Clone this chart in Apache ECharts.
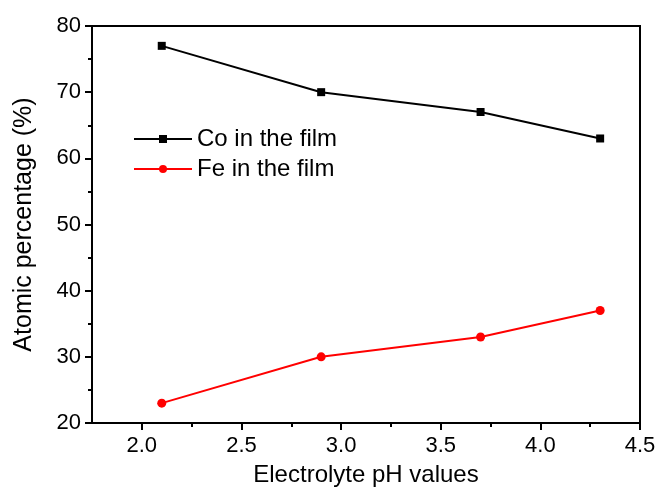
<!DOCTYPE html>
<html>
<head>
<meta charset="utf-8">
<script src="https://cdn.jsdelivr.net/npm/echarts@6/dist/echarts.min.js"></script>
<style>
  html, body { margin: 0; padding: 0; background: #fff; }
  #chart { width: 659px; height: 489px; }
</style>
</head>
<body>
<div id="chart"></div>
<script>
// data
const phValues = [2.1, 2.9, 3.7, 4.3];
const coValues = [77, 70, 67, 63];
const feValues = [23, 30, 33, 37];
const xMajorTicks = [2.0, 2.5, 3.0, 3.5, 4.0, 4.5];
const xMinorTicks = [2.25, 2.75, 3.25, 3.75, 4.25];

const font = "Liberation Sans, Arial, sans-serif";

function pairs(xs, ys) {
  return xs.map((x, i) => [x, ys[i]]);
}

const chart = echarts.init(document.getElementById("chart"));
chart.setOption({
  animation: false,
  grid: {
    left: 92, top: 26, right: 19, bottom: 66,
    outerBoundsMode: "none",
    show: true, borderColor: "#000", borderWidth: 2, backgroundColor: "transparent"
  },
  legend: {
    left: 128, top: 122, orient: "vertical", itemGap: 6,
    itemWidth: 58, itemHeight: 10,
    textStyle: { fontFamily: font, fontSize: 24, color: "#000" },
    data: ["Co in the film", "Fe in the film"]
  },
  xAxis: [{
    type: "value", min: 1.75, max: 4.5,
    name: "Electrolyte pH values", nameLocation: "middle", nameGap: 40,
    nameTextStyle: { fontFamily: font, fontSize: 24, color: "#000" },
    axisLine: { lineStyle: { color: "#000", width: 2 } },
    axisTick: { inside: false, length: 7, customValues: xMajorTicks, lineStyle: { color: "#000", width: 2 } },
    axisLabel: {
      customValues: xMajorTicks, margin: 12,
      fontFamily: font, fontSize: 22, color: "#000",
      formatter: v => v.toFixed(1)
    },
    splitLine: { show: false }
  }, {
    type: "value", min: 1.75, max: 4.5, position: "bottom",
    axisLine: { show: false },
    axisTick: { inside: false, length: 4, customValues: xMinorTicks, lineStyle: { color: "#000", width: 2 } },
    axisLabel: { show: false },
    splitLine: { show: false }
  }],
  yAxis: {
    type: "value", min: 20, max: 80, interval: 10,
    name: "Atomic percentage (%)", nameLocation: "middle", nameGap: 55,
    nameTextStyle: { fontFamily: font, fontSize: 25, color: "#000" },
    axisLine: { show: true, lineStyle: { color: "#000", width: 2 } },
    axisTick: { show: true, inside: false, length: 7, lineStyle: { color: "#000", width: 2 } },
    minorTick: { show: true, splitNumber: 2, length: 4, lineStyle: { color: "#000", width: 2 } },
    axisLabel: { margin: 11, fontFamily: font, fontSize: 22, color: "#000" },
    splitLine: { show: false }
  },
  series: [{
    name: "Co in the film", type: "line",
    data: pairs(phValues, coValues),
    symbol: "rect", symbolSize: 8,
    lineStyle: { color: "#000", width: 2 },
    itemStyle: { color: "#000" }
  }, {
    name: "Fe in the film", type: "line",
    data: pairs(phValues, feValues),
    symbol: "circle", symbolSize: 9,
    lineStyle: { color: "#ff0000", width: 2 },
    itemStyle: { color: "#ff0000" }
  }]
});
</script>
</body>
</html>
